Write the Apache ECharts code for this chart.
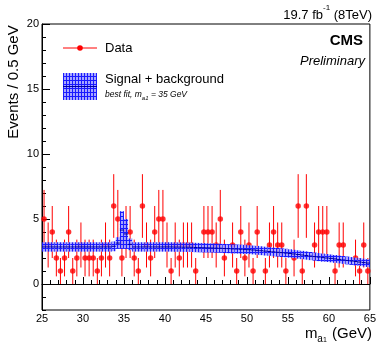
<!DOCTYPE html>
<html>
<head>
<meta charset="utf-8">
<script src="https://cdn.jsdelivr.net/npm/echarts@6/dist/echarts.min.js"></script>
<style>
  html, body { margin: 0; padding: 0; background: #fff; }
  #container { width: 379px; height: 343px; }
</style>
</head>
<body>
<div id="container"></div>
<script>
// histogram range, 0.5 GeV bins
var massMin = 25;
var massMax = 65;
var binWidth = 0.5;

// observed events per bin (empty bins are not drawn)
var dataCounts = [
  5, 3, 4, 2, 1, 2, 4, 1, 2, 3, 2, 2, 2, 1, 2, 3, 2, 6, 5, 2,
  4, 4, 2, 1, 6, 3, 2, 4, 5, 5, 3, 1, 3, 2, 3, 3, 3, 1, 0, 4,
  4, 4, 3, 5, 2, 0, 3, 1, 4, 2, 3, 1, 4, 0, 1, 3, 4, 3, 3, 1,
  0, 2, 6, 1, 6, 0, 3, 4, 4, 4, 0, 1, 3, 3, 0, 0, 2, 1, 3, 1
];

// signal + background best fit, per bin
var fitValues = [
  2.85, 2.85, 2.85, 2.85, 2.85, 2.85, 2.85, 2.85, 2.85, 2.85,
  2.85, 2.85, 2.85, 2.85, 2.85, 2.85, 2.85, 2.90, 3.15, 4.15,
  3.85, 3.05, 2.85, 2.85, 2.85, 2.85, 2.85, 2.85, 2.85, 2.85,
  2.85, 2.85, 2.84, 2.84, 2.83, 2.83, 2.82, 2.81, 2.80, 2.79,
  2.78, 2.77, 2.76, 2.75, 2.73, 2.72, 2.70, 2.69, 2.67, 2.66,
  2.64, 2.62, 2.59, 2.56, 2.53, 2.50, 2.47, 2.44, 2.41, 2.38,
  2.35, 2.31, 2.27, 2.23, 2.19, 2.15, 2.11, 2.07, 2.03, 2.00,
  1.97, 1.93, 1.89, 1.85, 1.81, 1.77, 1.73, 1.69, 1.65, 1.61
];

// half width of the fit uncertainty band, per bin
var fitErrors = [
  0.36, 0.36, 0.36, 0.36, 0.36, 0.36, 0.36, 0.36, 0.36, 0.36,
  0.36, 0.36, 0.36, 0.36, 0.36, 0.36, 0.36, 0.38, 0.45, 1.45,
  1.15, 0.45, 0.36, 0.36, 0.36, 0.36, 0.36, 0.36, 0.36, 0.36,
  0.36, 0.36, 0.36, 0.36, 0.36, 0.36, 0.36, 0.36, 0.36, 0.36,
  0.35, 0.35, 0.35, 0.35, 0.35, 0.35, 0.35, 0.35, 0.35, 0.35,
  0.34, 0.34, 0.34, 0.34, 0.34, 0.33, 0.33, 0.33, 0.33, 0.33,
  0.32, 0.32, 0.32, 0.32, 0.32, 0.31, 0.31, 0.31, 0.31, 0.31,
  0.30, 0.30, 0.30, 0.30, 0.30, 0.30, 0.30, 0.30, 0.30, 0.30
];

var yMajorTicks = [0, 5, 10, 15, 20];

// hatched blue fill used for the band
var hatch = document.createElement('canvas');
hatch.width = 3;
hatch.height = 4;
var hctx = hatch.getContext('2d');
hctx.fillStyle = 'rgba(150,150,255,0.85)';
hctx.fillRect(0, 0, 3, 4);
hctx.fillStyle = '#1a1aff';
hctx.fillRect(0, 0, 1, 4);
hctx.fillRect(0, 0, 3, 1);
var hatchFill = { image: hatch, repeat: 'repeat' };

var bandData = [];
var pointData = [];
var errData = [];
for (var i = 0; i < dataCounts.length; i++) {
  var lo = massMin + i * binWidth;
  var c = lo + binWidth / 2;
  bandData.push([lo, lo + binWidth, fitValues[i], fitErrors[i]]);
  if (dataCounts[i] > 0) {
    pointData.push([c, dataCounts[i]]);
    errData.push([c, dataCounts[i], Math.sqrt(dataCounts[i])]);
  }
}

var dom = document.getElementById('container');
var myChart = echarts.init(dom, null, { renderer: 'canvas' });

var font = '"Liberation Sans", Arial, sans-serif';

var option = {
  animation: false,
  backgroundColor: '#fff',
  grid: {
    left: 42, right: 7, top: 24, bottom: 33,
    show: true, borderColor: '#000', borderWidth: 1, backgroundColor: 'transparent'
  },
  xAxis: {
    type: 'value',
    min: massMin,
    max: massMax,
    interval: 5,
    axisLine: { lineStyle: { color: '#000', width: 1 } },
    axisTick: { inside: true, length: 7, lineStyle: { color: '#000' } },
    minorTick: { show: true, splitNumber: 5, length: 4, lineStyle: { color: '#000' } },
    axisLabel: { color: '#000', fontSize: 11, fontFamily: font, margin: 3 },
    splitLine: { show: false }
  },
  yAxis: [
    {
      type: 'value',
      min: -2,
      max: 20,
      interval: 1,
      axisLine: { show: true, lineStyle: { color: '#000', width: 1 } },
      axisTick: { inside: true, length: 4, lineStyle: { color: '#000' } },
      axisLabel: {
        color: '#000', fontSize: 11, fontFamily: font, margin: 3,
        formatter: function (v) { return v % 5 === 0 && v >= 0 ? String(v) : ''; }
      },
      splitLine: { show: false }
    },
    {
      type: 'value',
      min: -2,
      max: 20,
      position: 'left',
      axisLine: { show: false },
      axisTick: { show: true, inside: true, length: 8, customValues: yMajorTicks, lineStyle: { color: '#000' } },
      axisLabel: { show: false },
      splitLine: { show: false }
    }
  ],
  series: [
    {
      name: 'Data errors',
      type: 'custom',
      z: 2,
      data: errData,
      renderItem: function (params, api) {
        var x = api.value(0), v = api.value(1), e = api.value(2);
        var top = api.coord([x, v + e]);
        var bot = api.coord([x, v - e]);
        return {
          type: 'line',
          shape: { x1: top[0], y1: top[1], x2: bot[0], y2: bot[1] },
          style: { stroke: '#ff0000', lineWidth: 1 }
        };
      }
    },
    {
      name: 'Data',
      type: 'scatter',
      z: 2,
      symbol: 'circle',
      symbolSize: 5.5,
      itemStyle: { color: '#ff0000' },
      data: pointData
    },
    {
      name: 'Signal + background',
      type: 'custom',
      z: 3,
      data: bandData,
      renderItem: function (params, api) {
        var x0 = api.value(0), x1 = api.value(1), m = api.value(2), h = api.value(3);
        var p0 = api.coord([x0, m + h]);
        var p1 = api.coord([x1, m - h]);
        var c0 = api.coord([x0, m]);
        var c1 = api.coord([x1, m]);
        return {
          type: 'group',
          children: [
            {
              type: 'rect',
              shape: { x: p0[0], y: p0[1], width: p1[0] - p0[0], height: p1[1] - p0[1] },
              style: { fill: hatchFill }
            },
            {
              type: 'line',
              shape: { x1: c0[0], y1: c0[1], x2: c1[0], y2: c1[1] },
              style: { stroke: '#0000a0', lineWidth: 1 }
            }
          ]
        };
      }
    }
  ],
  graphic: [
    {
      type: 'text',
      x: 14, y: 82,
      rotation: Math.PI / 2,
      style: {
        text: 'Events / 0.5 GeV',
        fill: '#000', font: '15px ' + font,
        align: 'center', verticalAlign: 'middle'
      }
    },
    {
      type: 'text',
      x: 372, y: 334,
      style: {
        text: '{m|m}{a|a}{o|1}{m| (GeV)}',
        align: 'right', verticalAlign: 'middle',
        rich: {
          m: { fontSize: 15, fontFamily: font, fill: '#000', lineHeight: 20, verticalAlign: 'middle' },
          a: { fontSize: 10, fontFamily: font, fill: '#000', lineHeight: 20, verticalAlign: 'bottom', padding: [0, 0, 0, 0] },
          o: { fontSize: 7, fontFamily: font, fill: '#000', lineHeight: 18, verticalAlign: 'bottom', padding: [0, 1, 0, 0] }
        }
      }
    },
    {
      type: 'text',
      x: 372, y: 13,
      style: {
        text: '{a|19.7 fb}{s|-1}{a| (8TeV)}',
        align: 'right', verticalAlign: 'middle',
        rich: {
          a: { fontSize: 13, fontFamily: font, fill: '#000', lineHeight: 18, verticalAlign: 'bottom' },
          s: { fontSize: 8, fontFamily: font, fill: '#000', lineHeight: 18, verticalAlign: 'top' }
        }
      }
    },
    {
      type: 'text',
      x: 363, y: 41,
      style: { text: 'CMS', fill: '#000', font: 'bold 15px ' + font, align: 'right', verticalAlign: 'middle' }
    },
    {
      type: 'text',
      x: 365, y: 61,
      style: { text: 'Preliminary', fill: '#000', font: 'italic 13px ' + font, align: 'right', verticalAlign: 'middle' }
    },
    {
      type: 'line',
      shape: { x1: 63, y1: 48, x2: 97, y2: 48 },
      style: { stroke: '#ff0000', lineWidth: 1 }
    },
    {
      type: 'circle',
      shape: { cx: 80, cy: 48, r: 2.8 },
      style: { fill: '#ff0000' }
    },
    {
      type: 'text',
      x: 105, y: 48,
      style: { text: 'Data', fill: '#000', font: '13px ' + font, verticalAlign: 'middle' }
    },
    {
      type: 'rect',
      shape: { x: 63, y: 73, width: 34, height: 27 },
      style: { fill: hatchFill }
    },
    {
      type: 'line',
      shape: { x1: 63, y1: 86.5, x2: 97, y2: 86.5 },
      style: { stroke: '#0000a0', lineWidth: 1 }
    },
    {
      type: 'text',
      x: 105, y: 79,
      style: { text: 'Signal + background', fill: '#000', font: '13px ' + font, verticalAlign: 'middle' }
    },
    {
      type: 'text',
      x: 105, y: 95,
      style: {
        text: '{t|best fit, m}{s|a1}{t| = 35 GeV}',
        verticalAlign: 'middle',
        rich: {
          t: { fontSize: 8.5, fontFamily: font, fontStyle: 'italic', fill: '#000', lineHeight: 13, verticalAlign: 'middle' },
          s: { fontSize: 6, fontFamily: font, fontStyle: 'italic', fill: '#000', lineHeight: 13, verticalAlign: 'bottom' }
        }
      }
    }
  ]
};

myChart.setOption(option);

window.addEventListener('resize', function () {
  myChart.resize();
});
</script>
</body>
</html>
